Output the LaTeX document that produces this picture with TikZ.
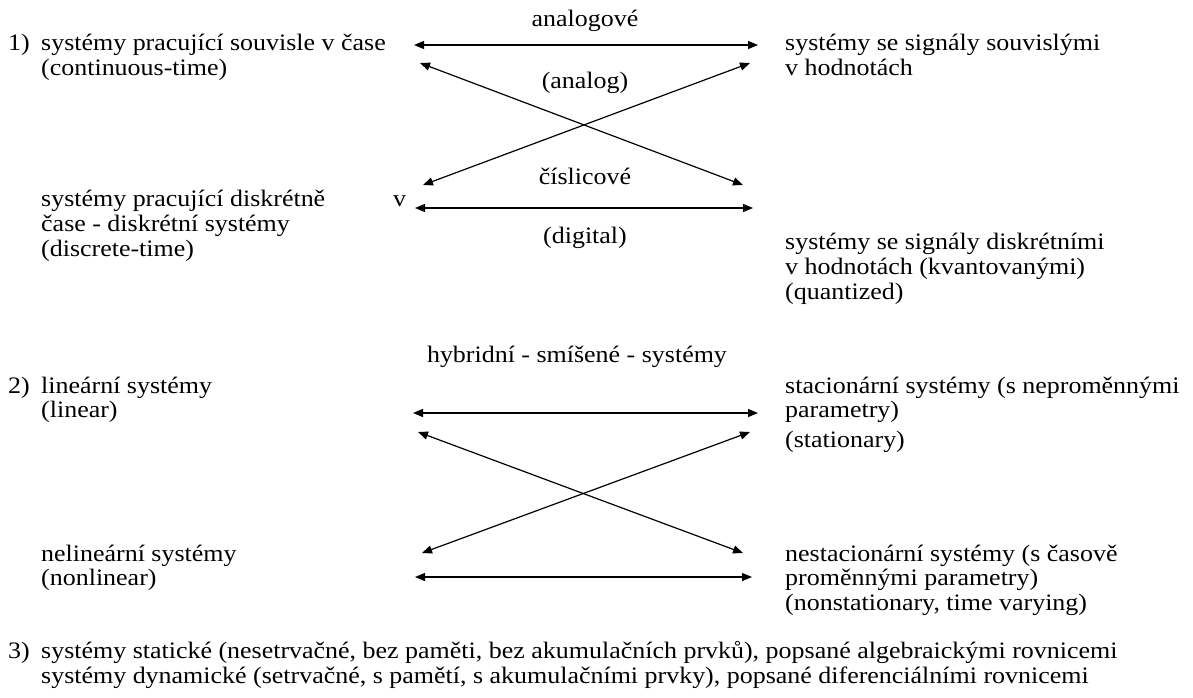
\documentclass[tikz,border=0pt]{standalone}
\usepackage{fontspec}
\setmainfont{Liberation Serif}[FakeStretch=1.1]
\usetikzlibrary{arrows.meta}
\begin{document}
\begin{tikzpicture}[x=1pt,y=-1pt,
  txt/.style={anchor=base west,inner sep=0pt,font=\fontsize{23.6}{25}\selectfont},
  ctxt/.style={anchor=base,inner sep=0pt,font=\fontsize{23.6}{25}\selectfont},
  link/.style={{Triangle[length=10pt,width=8pt]}-{Triangle[length=10pt,width=8pt]},line width=1.2pt}]
\useasboundingbox[fill=white] (0,0) rectangle (1193,698);
% block 1
\node[txt] (n1) at (8,51) {1)};
\node[txt] (cA) at (41,51) {systémy pracující souvisle v čase};
\node[txt] (cB) at (41,76) {(continuous-time)};
\node[txt] (dA) at (41,206) {systémy pracující diskrétně};
\node[txt] (dv) at (393,206) {v};
\node[txt] (dB) at (41,231) {čase - diskrétní systémy};
\node[txt] (dC) at (41,256) {(discrete-time)};
\node[txt] (sA) at (785,51) {systémy se signály souvislými};
\node[txt] (sB) at (785,76) {v hodnotách};
\node[txt] (qA) at (785,249) {systémy se signály diskrétními};
\node[txt] (qB) at (785,274) {v hodnotách (kvantovanými)};
\node[txt] (qC) at (785,299) {(quantized)};
\node[ctxt] (anA) at (585,27) {analogové};
\node[ctxt] (anB) at (585,89) {(analog)};
\node[ctxt] (diA) at (585,184) {číslicové};
\node[ctxt] (diB) at (585,243) {(digital)};
\coordinate (p1) at (414,45);
\coordinate (p2) at (758,45);
\coordinate (p3) at (420,63);
\coordinate (p4) at (743,185);
\coordinate (p5) at (750,63);
\coordinate (p6) at (423,185);
\coordinate (p7) at (415,208);
\coordinate (p8) at (753,208);
\draw[link] (p1) -- (p2);
\draw[link] (p3) -- (p4);
\draw[link] (p5) -- (p6);
\draw[link] (p7) -- (p8);
% block 2
\node[ctxt] (hy) at (577,362) {hybridní - smíšené - systémy};
\node[txt] (n2) at (8,393) {2)};
\node[txt] (lA) at (41,393) {lineární systémy};
\node[txt] (lB) at (41,417) {(linear)};
\node[txt] (nlA) at (41,561) {nelineární systémy};
\node[txt] (nlB) at (41,585) {(nonlinear)};
\node[txt] (stA) at (785,393) {stacionární systémy (s neproměnnými};
\node[txt] (stB) at (785,417) {parametry)};
\node[txt] (stC) at (785,447) {(stationary)};
\node[txt] (nsA) at (785,561) {nestacionární systémy (s časově};
\node[txt] (nsB) at (785,585) {proměnnými parametry)};
\node[txt] (nsC) at (785,610) {(nonstationary, time varying)};
\coordinate (r1) at (413,413);
\coordinate (r2) at (758,413);
\coordinate (r3) at (418,432);
\coordinate (r4) at (743,553);
\coordinate (r5) at (750,432);
\coordinate (r6) at (422,553);
\coordinate (r7) at (415,577);
\coordinate (r8) at (752,577);
\draw[link] (r1) -- (r2);
\draw[link] (r3) -- (r4);
\draw[link] (r5) -- (r6);
\draw[link] (r7) -- (r8);
% block 3
\node[txt] (n3) at (8,658) {3)};
\node[txt] (tA) at (41,658) {systémy statické (nesetrvačné, bez paměti, bez akumulačních prvků), popsané algebraickými rovnicemi};
\node[txt] (tB) at (41,683) {systémy dynamické (setrvačné, s pamětí, s akumulačními prvky), popsané diferenciálními rovnicemi};
\end{tikzpicture}
\end{document}
